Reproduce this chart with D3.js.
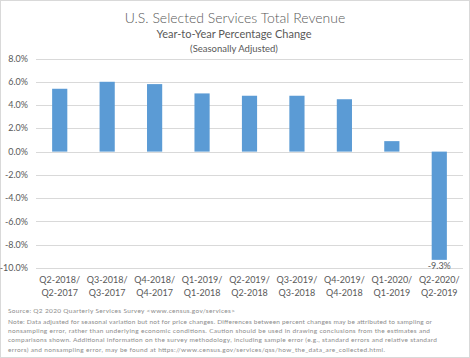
<!DOCTYPE html>
<html><head><meta charset="utf-8">
<script src="https://cdn.jsdelivr.net/npm/d3@7"></script>
<style>html,body{margin:0;padding:0;background:#fff;}svg{display:block;}</style>
</head><body>
<script>
const categoriesLine1 = ["Q2-2018/","Q3-2018/","Q4-2018/","Q1-2019/","Q2-2019/","Q3-2019/","Q4-2019/","Q1-2020/","Q2-2020/"];
const categoriesLine2 = ["Q2-2017","Q3-2017","Q4-2017","Q1-2018","Q2-2018","Q3-2018","Q4-2018","Q1-2019","Q2-2019"];
const values = [5.4, 6.0, 5.8, 5.0, 4.8, 4.8, 4.5, 0.9, -9.3];
const yTicks = [8, 6, 4, 2, 0, -2, -4, -6, -8, -10];
const titleText = "U.S. Selected Services Total Revenue";
const subtitleText = "Year-to-Year Percentage Change";
const subsubText = "(Seasonally Adjusted)";
const sourceText = "Source:  Q2 2020 Quarterly Services Survey <www.census.gov/services>";
const noteLines = [
 "Note: Data adjusted for seasonal variation but not for price changes. Differences between percent changes may be attributed to sampling or",
 "nonsampling error, rather than underlying economic conditions. Caution should be used in drawing conclusions from the estimates and",
 "comparisons shown. Additional information on the survey methodology, including sample error (e.g., standard errors and relative standard",
 "errors) and nonsampling error, may be found at https://www.census.gov/services/qss/how_the_data_are_collected.html."
];

const W = 470, H = 358;
const font = "Lato, 'Open Sans', sans-serif";
const svg = d3.select("body").append("svg").attr("width", W).attr("height", H);
svg.append("rect").attr("x",0.5).attr("y",0.5).attr("width",W-1).attr("height",H-1)
  .attr("fill","#fff").attr("stroke","#d9d9d9");

const x = d3.scaleBand().domain(d3.range(values.length)).range([36, 463]).paddingInner(0.68).paddingOuter(0.34);
const y = d3.scaleLinear().domain([-10, 8]).range([268, 58.5]);

svg.append("g").selectAll("line").data(yTicks).join("line")
  .attr("x1", 36).attr("x2", 463)
  .attr("y1", d => Math.round(y(d)) + 0.5).attr("y2", d => Math.round(y(d)) + 0.5)
  .attr("stroke", "#d9d9d9").attr("stroke-width", 1);

svg.append("g").selectAll("text").data(yTicks).join("text")
  .attr("x", 28).attr("y", d => y(d)).attr("dy", "0.35em")
  .attr("text-anchor", "end").attr("font-family", font).attr("font-size", 9)
  .attr("fill", "#595959").text(d => d.toFixed(1) + "%");

svg.append("g").selectAll("rect").data(values).join("rect")
  .attr("x", (d,i) => x(i)).attr("width", x.bandwidth())
  .attr("y", d => y(Math.max(0,d))).attr("height", d => Math.abs(y(d) - y(0)))
  .attr("fill", "#5b9bd5");

const li = values.length - 1;
svg.append("text").attr("x", x(li) + x.bandwidth()/2).attr("y", y(values[li]) + 9.5)
  .attr("text-anchor","middle").attr("font-family",font).attr("font-size",9).attr("fill","#595959")
  .text(values[li].toFixed(1) + "%");

const xl = svg.append("g").selectAll("text").data(values).join("text")
  .attr("text-anchor","middle").attr("font-family",font).attr("font-size",9).attr("fill","#595959");
xl.append("tspan").attr("x",(d,i)=>x(i)+x.bandwidth()/2).attr("y",282.5).text((d,i)=>categoriesLine1[i]);
xl.append("tspan").attr("x",(d,i)=>x(i)+x.bandwidth()/2).attr("y",295.5).text((d,i)=>categoriesLine2[i]);

svg.append("text").attr("x",235).attr("y",23).attr("text-anchor","middle").attr("font-family",font)
  .attr("font-size",14).attr("font-weight",300).attr("fill","#595959").text(titleText);
svg.append("text").attr("x",234).attr("y",38).attr("text-anchor","middle").attr("font-family",font)
  .attr("font-size",11).attr("fill","#595959").text(subtitleText);
svg.append("text").attr("x",234).attr("y",52).attr("text-anchor","middle").attr("font-family",font)
  .attr("font-size",9.5).attr("fill","#595959").text(subsubText);

svg.append("text").attr("x",8).attr("y",312.5).attr("font-family",font).attr("font-size",6.5)
  .attr("fill","#8c8c8c").attr("textLength",227).attr("lengthAdjust","spacing").text(sourceText);
const noteWidths = [424, 422, 429, 377];
noteLines.forEach((t,i) => {
  const el = svg.append("text").attr("x",8).attr("y",324 + i*9.2).attr("font-family",font)
    .attr("font-size",6.5).attr("fill","#8c8c8c").text(t);
  if (noteWidths[i]) el.attr("textLength", noteWidths[i]).attr("lengthAdjust","spacing");
});
</script>
</body></html>
